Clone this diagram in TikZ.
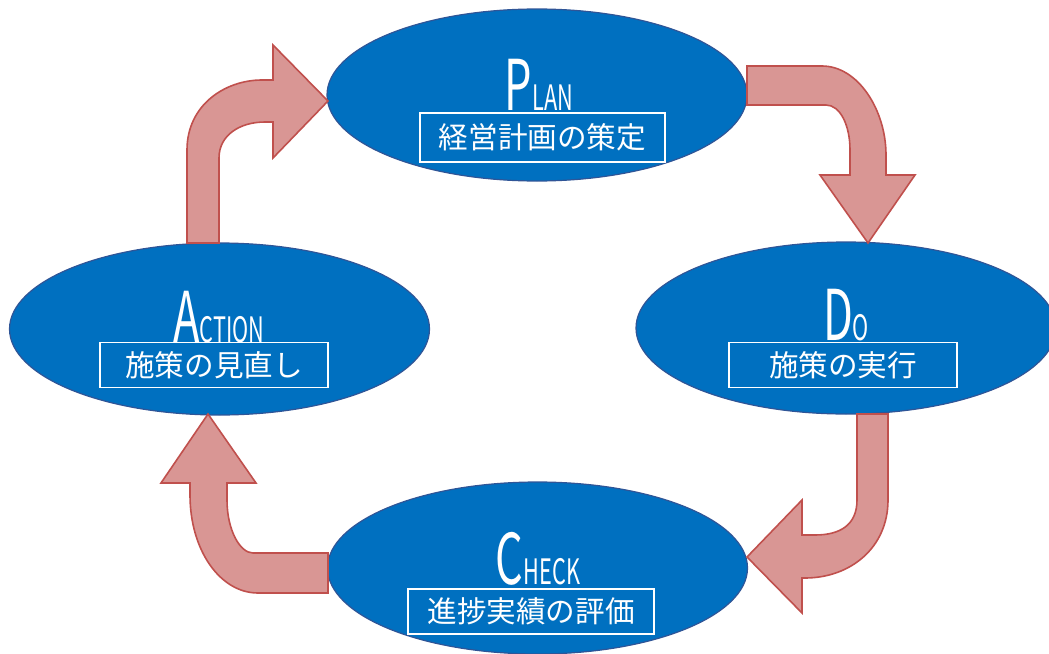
\documentclass[tikz,border=0pt]{standalone}
\usepackage{fontspec}
\usepackage{tikz}
\usetikzlibrary{shapes.geometric, positioning}
\setmainfont{Noto Sans CJK JP}
\newfontfamily\jpfont{Noto Sans CJK JP}
\newfontfamily\capfont[FakeStretch=0.62]{Noto Sans CJK JP}
\definecolor{phasefill}{HTML}{0070C0}
\definecolor{phaseline}{HTML}{2F5597}
\definecolor{flowfill}{HTML}{D99694}
\definecolor{flowline}{HTML}{C0504D}
\newcommand{\phasetitle}[2]{{\fontsize{35}{35}\selectfont #1}{\fontsize{17.5}{17.5}\selectfont #2}}

\begin{document}
\begin{tikzpicture}[
x=0.5pt, y=-0.5pt,
    phase/.style={draw=phaseline, fill=phasefill, ellipse, line width=0.6pt, minimum width=210pt, minimum height=86pt, inner sep=0pt},
    title/.style={text=white, inner sep=0pt, font=\capfont, anchor=base},
    task/.style={draw=white, line width=0.7pt, text=white, minimum height=22.5pt, inner sep=0pt, font=\jpfont\fontsize{14.8}{14.8}\selectfont},
    flow/.style={draw=flowline, fill=flowfill, line width=0.8pt, line join=miter}
]
    \useasboundingbox (0,0) rectangle (1049,653);

    % --- Plan ---
    \node[phase] (plan) at (537,95) {};
    \node[title] (plantitle) at (539,110) {\phasetitle{P}{LAN}};
    \node[task, minimum width=122.5pt, minimum height=24.5pt] (plantask) at (542.5,137.5) {経営計画の策定};

    % --- Do ---
    \node[phase] (do) at (846,328) {};
    \node[title] (dotitle) at (846,340) {\phasetitle{D}{O}};
    \node[task, minimum width=114pt] (dotask) at (843,365) {施策の実行};

    % --- Check ---
    \node[phase] (check) at (537.5,568) {};
    \node[title] (checktitle) at (538,584) {\phasetitle{C}{HECK}};
    \node[task, minimum width=123pt] (checktask) at (531,611.5) {進捗実績の評価};

    % --- Action ---
    \node[phase] (action) at (219.5,329) {};
    \node[title] (actiontitle) at (219,342) {\phasetitle{A}{CTION}};
    \node[task, minimum width=114pt] (actiontask) at (214,365) {施策の見直し};

    % --- Bent arrows between the phases ---
    % plan -> do
    \path[flow] (747,66) -- (822,66) .. controls (858,66) and (886,110) .. (886,155)
        -- (886,175) -- (915,175) -- (868,243) -- (820,175) -- (850,175) -- (850,150)
        .. controls (850,125) and (840,105) .. (826,105) -- (747,105) -- cycle;
    % do -> check
    \path[flow] (857,414) -- (888,414) -- (888,500) .. controls (888,548) and (850,578) .. (805,578)
        -- (802,578) -- (802,613) -- (747,557) -- (802,500) -- (802,535) -- (815,535)
        .. controls (840,535) and (857,525) .. (857,500) -- cycle;
    % check -> action
    \path[flow] (328,553) -- (253,553) .. controls (240,553) and (227,530) .. (227,500)
        -- (227,483) -- (256,483) -- (208,414) -- (161,483) -- (190,483) -- (190,495)
        .. controls (190,550) and (220,593) .. (258,593) -- (328,593) -- cycle;
    % action -> plan
    \path[flow] (187,243) -- (187,150) .. controls (187,105) and (225,80) .. (262,80)
        -- (273,80) -- (273,45) -- (328,101) -- (273,158) -- (273,122) -- (265,122)
        .. controls (240,122) and (219,135) .. (219,158) -- (219,243) -- cycle;

\end{tikzpicture}
\end{document}
